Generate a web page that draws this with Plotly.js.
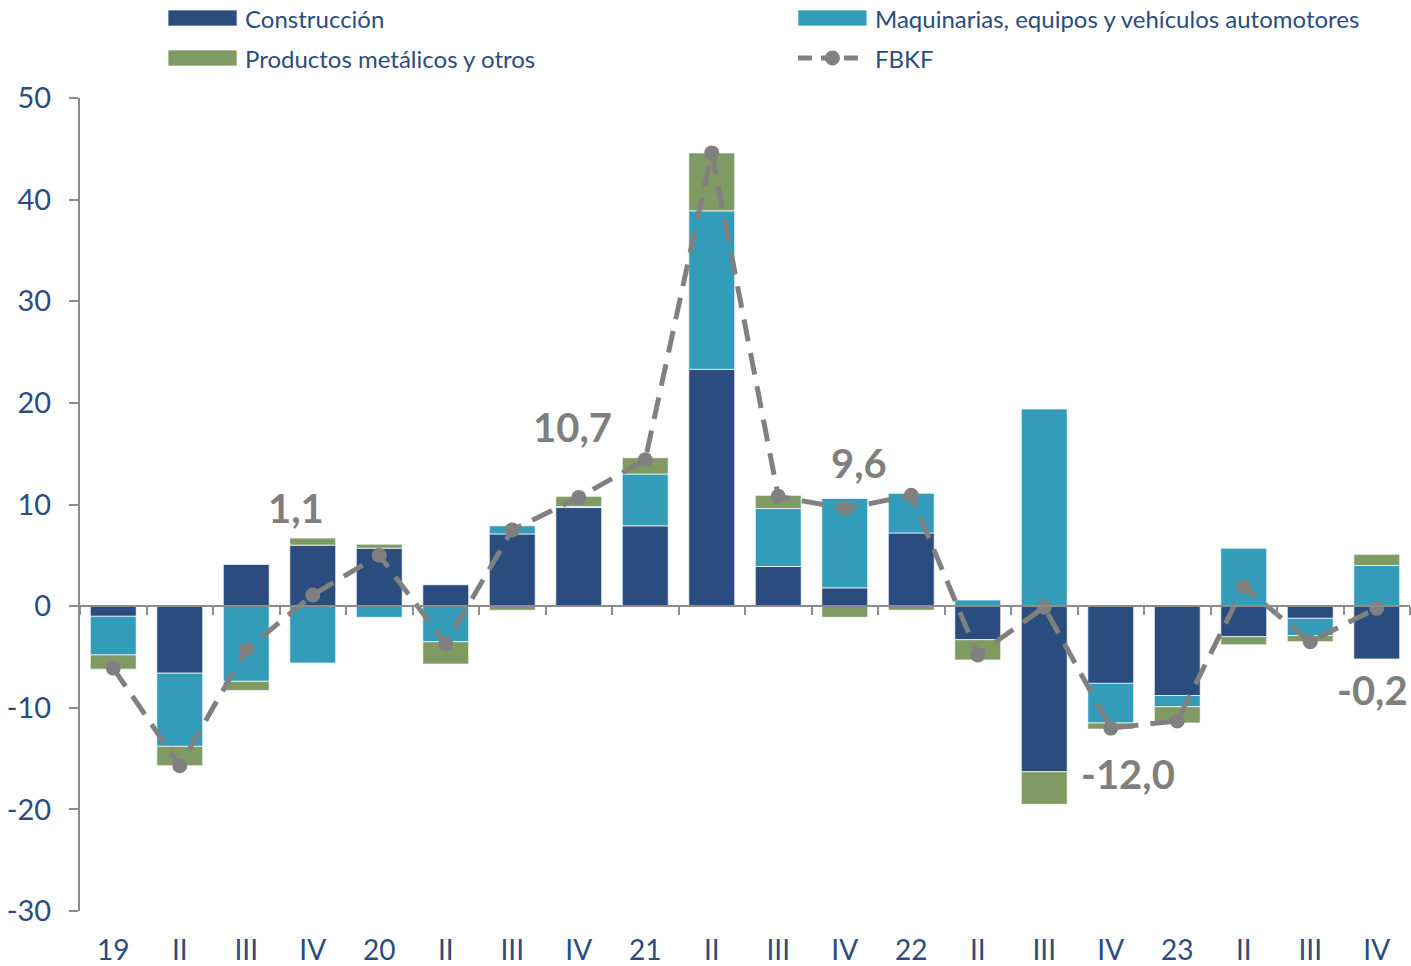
<!DOCTYPE html>
<html>
<head>
<meta charset="utf-8">
<script src="https://cdn.plot.ly/plotly-3.0.1.min.js"></script>
<style>
	body { margin: 0; background: #fff; }
	#chart { width: 1411px; height: 966px; }
</style>
</head>
<body>
<div id="chart"></div>
<script>
const quarters = ["19", "II", "III", "IV", "20", "II", "III", "IV", "21", "II", "III", "IV", "22", "II", "III", "IV", "23", "II", "III", "IV"];
const construccion = [-1.0, -6.6, 4.1, 6.0, 5.7, 2.1, 7.1, 9.7, 7.9, 23.3, 3.9, 1.8, 7.2, -3.3, -16.3, -7.6, -8.8, -3.0, -1.2, -5.2];
const maquinarias = [-3.8, -7.2, -7.4, -5.6, -1.1, -3.5, 0.8, 0.1, 5.1, 15.6, 5.7, 8.8, 3.9, 0.6, 19.4, -3.9, -1.1, 5.7, -1.7, 4.0];
const productos = [-1.4, -1.9, -0.9, 0.7, 0.4, -2.2, -0.4, 1.0, 1.6, 5.7, 1.3, -1.1, -0.4, -2.0, -3.2, -0.6, -1.6, -0.8, -0.6, 1.1];
const fbkf = [-6.1, -15.7, -4.3, 1.1, 5.0, -3.7, 7.5, 10.7, 14.4, 44.6, 10.8, 9.6, 10.9, -4.8, -0.1, -12.0, -11.3, 1.9, -3.5, -0.2];
const yTicks = [-30, -20, -10, 0, 10, 20, 30, 40, 50];

// labelled points: index, text, pixel offset of the label
const labelled = [
	{ i: 3, text: "1,1", dx: -17, dy: 87 },
	{ i: 7, text: "10,7", dx: -6, dy: 70 },
	{ i: 11, text: "9,6", dx: 14, dy: 46 },
	{ i: 15, text: "-12,0", dx: 17, dy: -46 },
	{ i: 19, text: "-0,2", dx: -4, dy: -82 },
];

const xs = quarters.map((q, i) => i);
const blue = "#2B4C7E";
const grey = "#8C8C8C";
const lineGrey = "#808080";
const font = "Lato, 'Open Sans', sans-serif";
const colors = { constr: "#2B4C7E", maq: "#339DB9", prod: "#809A64" };

const barTrace = (name, values, color) => ({
	x: xs,
	y: values,
	type: "bar",
	name: name,
	marker: {
		color: color,
		line: { color: "rgba(255,255,255,.7)", width: 1 }
	},
	hoverinfo: "y+name"
});

const traces = [
	barTrace("Construcción", construccion, colors.constr),
	barTrace("Maquinarias, equipos y vehículos automotores", maquinarias, colors.maq),
	barTrace("Productos metálicos y otros", productos, colors.prod),
	{
		x: xs,
		y: fbkf,
		xaxis: "x2",
		type: "scatter",
		mode: "lines+markers",
		name: "FBKF",
		line: { color: lineGrey, width: 5, dash: "22px,12px" },
		marker: { color: lineGrey, size: 15 }
	}
];

// legend drawn by hand, two columns with wide swatches like the original
const legendItems = [
	{ name: "Construcción", color: colors.constr, col: 0, row: 0 },
	{ name: "Maquinarias, equipos y vehículos automotores", color: colors.maq, col: 1, row: 0 },
	{ name: "Productos metálicos y otros", color: colors.prod, col: 0, row: 1 },
	{ name: "FBKF", color: lineGrey, col: 1, row: 1, line: true }
];
const legendCols = [0.0662, 0.5398];
const legendRows = [1.0984, 1.0492];

const legendShapes = [];
const legendTexts = [];
legendItems.forEach(item => {
	const x = legendCols[item.col];
	const y = legendRows[item.row];
	if (item.line) {
		legendShapes.push({
			type: "line", xref: "paper", yref: "paper",
			xsizemode: "pixel", ysizemode: "pixel", xanchor: x, yanchor: y,
			x0: 0, x1: 69, y0: 0, y1: 0,
			line: { color: item.color, width: 5, dash: "14px,9px" }
		});
		legendShapes.push({
			type: "circle", xref: "paper", yref: "paper",
			xsizemode: "pixel", ysizemode: "pixel", xanchor: x, yanchor: y,
			x0: 27, x1: 42, y0: -7.5, y1: 7.5,
			fillcolor: item.color, line: { width: 0 }
		});
	} else {
		legendShapes.push({
			type: "rect", xref: "paper", yref: "paper",
			xsizemode: "pixel", ysizemode: "pixel", xanchor: x, yanchor: y,
			x0: 0, x1: 69, y0: -8, y1: 8,
			fillcolor: item.color, line: { color: "rgba(255,255,255,.7)", width: 1 }
		});
	}
	legendTexts.push({
		xref: "paper", yref: "paper",
		x: x, y: y, xshift: 75,
		xanchor: "left", yanchor: "middle",
		text: item.name, showarrow: false,
		font: { size: 24, color: blue, family: font }
	});
});

const layout = {
	width: 1411,
	height: 966,
	barmode: "relative",
	bargap: 0.31,
	margin: { l: 80, r: 1, t: 98, b: 55 },
	font: { family: font, color: blue },
	paper_bgcolor: "#fff",
	plot_bgcolor: "#fff",
	showlegend: false,
	xaxis: {
		range: [-0.5, 19.5],
		tickvals: xs,
		ticktext: quarters,
		showline: false,
		showgrid: false,
		zeroline: false,
		ticks: "",
		ticklabelstandoff: 20,
		tickfont: { size: 28, color: blue, family: font },
		fixedrange: true
	},
	xaxis2: {
		overlaying: "x",
		anchor: "free",
		position: 0.375,
		range: [-0.5, 19.5],
		tick0: -0.5,
		dtick: 1,
		showline: true,
		linecolor: grey,
		linewidth: 2,
		ticks: "outside",
		ticklen: 8,
		tickwidth: 2,
		tickcolor: grey,
		showticklabels: false,
		showgrid: false,
		zeroline: false,
		fixedrange: true
	},
	yaxis: {
		range: [-30, 50],
		tickvals: yTicks,
		ticktext: yTicks.map(String),
		showline: true,
		linecolor: grey,
		linewidth: 2,
		ticks: "outside",
		ticklen: 9,
		tickwidth: 2,
		tickcolor: grey,
		showgrid: false,
		zeroline: false,
		ticklabelstandoff: 12,
		tickfont: { size: 29, color: blue, family: font },
		fixedrange: true
	},
	shapes: legendShapes,
	annotations: legendTexts.concat(labelled.map(l => ({
		x: l.i,
		y: fbkf[l.i],
		text: l.text,
		showarrow: false,
		xshift: l.dx,
		yshift: l.dy,
		font: { size: 40, color: "#7F7F7F", family: font, weight: "bold" }
	})))
};

Plotly.newPlot("chart", traces, layout, { responsive: false, displayModeBar: false });
</script>
</body>
</html>
